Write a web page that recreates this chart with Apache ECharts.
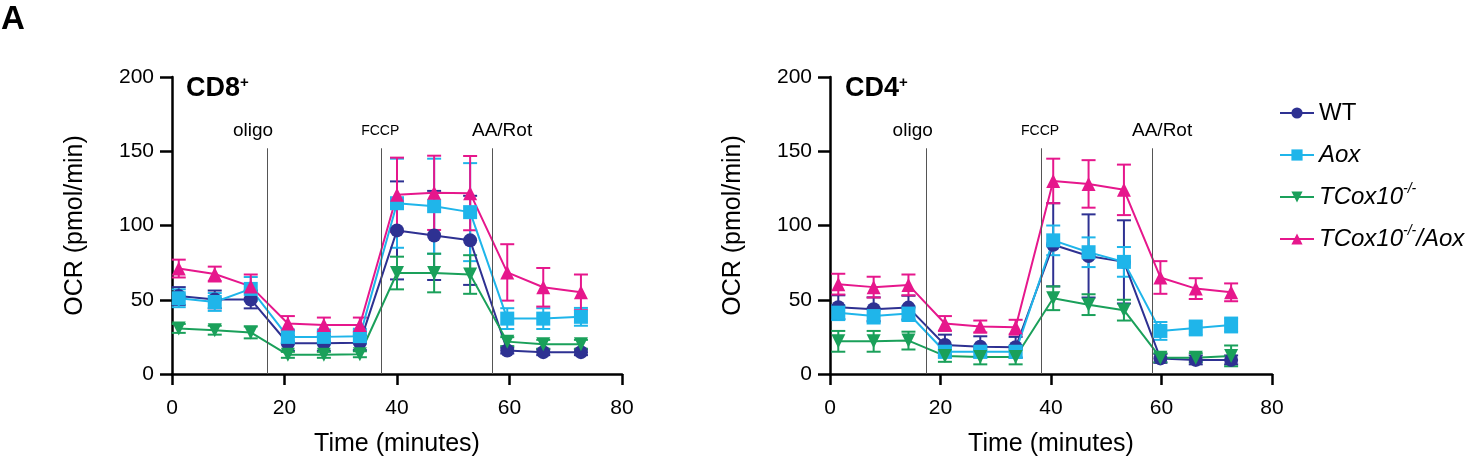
<!DOCTYPE html>
<html><head><meta charset="utf-8">
<script src="https://cdn.jsdelivr.net/npm/echarts@6/dist/echarts.min.js"></script>
<style>html,body{margin:0;padding:0;background:#fff}#c{width:1476px;height:462px}</style>
</head><body><div id="c"></div>
<script>
const timesL = [1.2,7.6,14,20.6,27,33.4,40,46.6,53,59.6,66,72.7];
const timesR = [1.5,7.9,14.2,20.8,27.2,33.6,40.4,46.8,53.2,59.8,66.2,72.6];
const seriesNames = ['WT','Aox','TCox10-/-','TCox10-/-/Aox'];
const colors = ['#2e3192','#1fb5ea','#1aa05a','#e6178c'];
const cd8Mean = [
  [52.5,50.2,50.2,20.7,20.7,21.1,96.7,93.3,90,15.8,14.7,14.7],
  [51,48.5,57.3,25,25,25.5,115,113,109,37.3,37.3,38.5],
  [30.7,29.5,28,12.9,12.9,13.3,68,68,67,21.8,20,20],
  [71,67.3,59,34,33,33,120.7,122,121.8,68.4,58.4,55]
];
const cd8Err = [
  [6,6,6,5,5,5,33,30,30,2,2,2],
  [6,6,8,5,5,5,30,32,33,7,7,6],
  [3,3,4,2,2,2,11,13,13,3,3,3],
  [6,5,8,5,5,5,25,25,25,19,13,12]
];
const cd4Mean = [
  [45,43.6,44.7,19.5,18.4,18,87,79.5,75.5,10.5,9.5,9.5],
  [41.3,39,40.7,15,15,15,90,82,75.5,29,31,33],
  [22,22,22.5,12.2,11.5,11.5,51,46.7,43,11,11,12.2],
  [60.5,58.5,60,34,32,31.5,130,128,124,65,57.5,55]
];
const cd4Err = [
  [8,8,8,7,7,7,28,28,28,3,3,3],
  [5,5,5,4,4,4,10,10,10,6,5,5],
  [7,7,6,4,5,5,8,7,7,3,3,7],
  [7,7,7,5,4,5,15,16,17,11,7,6]
];
const symbols = ['circle','rect','triangle','triangle'];
const rotates = [0,0,180,0];
const injL = [16.9,37.2,56.9];
const injR = [17.5,38.2,58.3];
const injNames = ['oligo','FCCP','AA/Rot'];

const FF = 'Liberation Sans';
const chart = echarts.init(document.getElementById('c'));
const grids = [{left:172,top:77,width:450,height:300},{left:830,top:77,width:442,height:300}];
const xAxis = [0,1].map(i=>({gridIndex:i,type:'value',min:0,max:80,interval:20,
  axisLine:{lineStyle:{color:'#000',width:2.5}},axisTick:{length:11,lineStyle:{color:'#000',width:2.5}},
  splitLine:{show:false},axisLabel:{color:'#000',fontSize:21,fontFamily:FF,margin:24},
  name:'Time (minutes)',nameLocation:'middle',nameGap:58,nameTextStyle:{color:'#000',fontSize:25,fontFamily:FF}}));
const yAxis = [0,1].map(i=>({gridIndex:i,type:'value',min:0,max:200,interval:50,
  axisLine:{show:true,lineStyle:{color:'#000',width:2.5}},axisTick:{show:true,length:12,lineStyle:{color:'#000',width:2.5}},
  splitLine:{show:false},axisLabel:{color:'#000',fontSize:21,fontFamily:FF,margin:18},
  name:'OCR (pmol/min)',nameLocation:'middle',nameGap:84,nameTextStyle:{color:'#000',fontSize:25,fontFamily:FF}}));
const series = [];
function addPanel(gi, times, means, errs, inj){
  means.forEach((m,k)=>{
    series.push({type:'custom',xAxisIndex:gi,yAxisIndex:gi,silent:true,z:2,
      data:m.map((v,j)=>[times[j],v-errs[k][j],v+errs[k][j]]),
      renderItem:(p,api)=>{
        const lo=api.coord([api.value(0),api.value(1)]), hi=api.coord([api.value(0),api.value(2)]);
        const w=7, st={stroke:colors[k],lineWidth:2};
        return {type:'group',children:[
          {type:'line',shape:{x1:lo[0],y1:lo[1],x2:hi[0],y2:hi[1]},style:st},
          {type:'line',shape:{x1:lo[0]-w,y1:lo[1],x2:lo[0]+w,y2:lo[1]},style:st},
          {type:'line',shape:{x1:hi[0]-w,y1:hi[1],x2:hi[0]+w,y2:hi[1]},style:st}]};
      }});
    series.push({type:'line',name:seriesNames[k],xAxisIndex:gi,yAxisIndex:gi,z:3,
      data:m.map((v,j)=>[times[j],v]),symbol:symbols[k],symbolRotate:rotates[k],symbolSize:14,
      itemStyle:{color:colors[k]},lineStyle:{color:colors[k],width:2},animation:false});
  });
  series.push({type:'line',xAxisIndex:gi,yAxisIndex:gi,data:[],silent:true,
    markLine:{symbol:'none',silent:true,animation:false,label:{show:false},
      lineStyle:{color:'#555',width:1,type:'solid'},
      data:inj.map(t=>[{coord:[t,0]},{coord:[t,152]}])}});
}
addPanel(0,timesL,cd8Mean,cd8Err,injL);
addPanel(1,timesR,cd4Mean,cd4Err,injR);

const legendRich = {i:{fontStyle:'italic',fontSize:24,fontFamily:FF,color:'#000'},
  s:{fontStyle:'italic',fontSize:14,fontFamily:FF,color:'#000',verticalAlign:'top',padding:[0,0,10,0]},
  n:{fontSize:24,fontFamily:FF,color:'#000'}};
const titleRich = {b:{fontSize:27,fontWeight:'bold',fontFamily:FF,fill:'#000'},s:{fontSize:15,fontWeight:'bold',verticalAlign:'top',fontFamily:FF,padding:[0,0,12,0]}};
const baseGraphic = [
  {type:'text',left:1,top:3,style:{text:'A',fontSize:33,fontWeight:'bold',fontFamily:FF,fill:'#000'}},
  {type:'text',left:186,top:75,style:{text:'{b|CD8}{s|+}',rich:titleRich}},
  {type:'text',left:845,top:75,style:{text:'{b|CD4}{s|+}',rich:titleRich}}
];
chart.setOption({
  animation:false,
  grid:grids,xAxis:xAxis,yAxis:yAxis,series:series,
  legend:{orient:'vertical',left:1274,top:93,itemGap:12,itemWidth:34,itemHeight:14,
    data:seriesNames,
    formatter:n=>({'WT':'{n|WT}','Aox':'{i|Aox}','TCox10-/-':'{i|TCox10}{s|-/-}','TCox10-/-/Aox':'{i|TCox10}{s|-/-}{i|/Aox}'}[n]),
    textStyle:{rich:legendRich,lineHeight:30}},
  graphic:baseGraphic
});
const g=[];
const offs=[-14,-1,10];
[[0,injL],[1,injR]].forEach(([gi,inj])=>{
  inj.forEach((t,k)=>{
    const p=chart.convertToPixel({gridIndex:gi},[t,152]);
    g.push({type:'text',x:p[0]+offs[k],y:131,style:{text:injNames[k],fontSize:k==1?14:19,fontFamily:FF,fill:'#000',align:'center',verticalAlign:'middle'}});
  });
});
chart.setOption({graphic:baseGraphic.concat(g)});
</script></body></html>
